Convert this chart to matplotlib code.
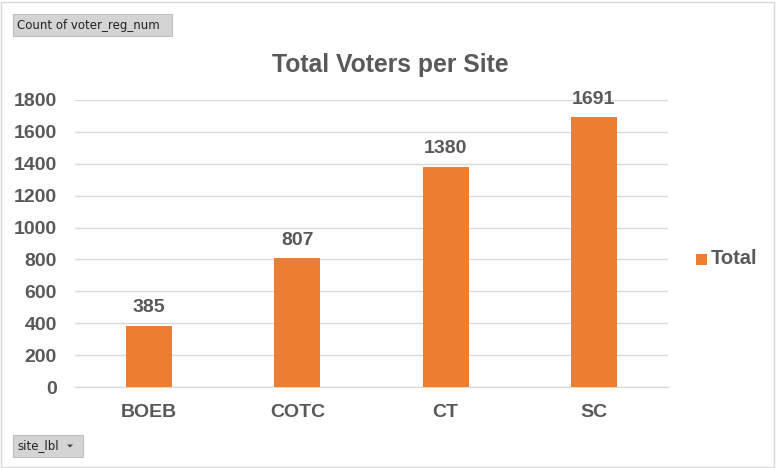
import matplotlib
matplotlib.use("Agg")
import matplotlib.pyplot as plt
from matplotlib.patches import Rectangle, Polygon

categories = ["BOEB", "COTC", "CT", "SC"]
values = [385, 807, 1380, 1691]
yticks = [0, 200, 400, 600, 800, 1000, 1200, 1400, 1600, 1800]

W, H = 776, 468
fig = plt.figure(figsize=(W/100, H/100), dpi=100)
plt.rcParams['font.family'] = ['Liberation Sans', 'DejaVu Sans']
txt = '#595959'
orange = '#ED7D31'

# outer frame
fig.patches.append(Rectangle((1/W, 1/H), (W-3)/W, (H-3)/H, transform=fig.transFigure,
                             fill=False, edgecolor='#d9d9d9', lw=1))

ax = fig.add_axes([75/W, 1-387/H, (668-75)/W, (387-100)/H])
x = range(len(categories))
bars = ax.bar(x, values, width=0.31, color=orange, zorder=3)
ax.set_xlim(-0.5, 3.5)
ax.set_ylim(0, 1800)
ax.set_yticks(yticks)
ax.set_yticklabels([str(v) for v in yticks], fontsize=14, fontweight='bold', color=txt)
ax.set_xticks(list(x))
ax.set_xticklabels(categories, fontsize=14, fontweight='bold', color=txt)
ax.tick_params(axis='y', length=0, pad=13)
ax.tick_params(axis='x', length=0, pad=12)
ax.grid(axis='y', color='#d9d9d9', lw=1, zorder=0)
for s in ['top', 'right', 'left']:
    ax.spines[s].set_visible(False)
ax.spines['bottom'].set_color('#d9d9d9')
for b, v in zip(bars, values):
    ax.annotate(str(v), (b.get_x()+b.get_width()/2, v), xytext=(0, 7), textcoords='offset points',
                ha='center', va='bottom', fontsize=14, fontweight='bold', color=txt)

fig.text(390/W, 1-65/H, "Total Voters per Site", ha='center', va='center',
         fontsize=17.8, fontweight='bold', color=txt)

# legend
fig.patches.append(Rectangle((696/W, 1-265/H), 11/W, 11/H, transform=fig.transFigure,
                             facecolor=orange, edgecolor='none'))
fig.text(711/W, 1-259/H, "Total", ha='left', va='center', fontsize=14.5, fontweight='bold', color=txt)

# field buttons
def button(x0, y0, w, h, label, arrow=False):
    fig.patches.append(Rectangle((x0/W, 1-(y0+h)/H), w/W, h/H, transform=fig.transFigure,
                                 facecolor='#d4d4d4', edgecolor='#c0c0c0', lw=0.8))
    fig.text((x0+4)/W, 1-(y0+h/2)/H, label, ha='left', va='center', fontsize=8.5, color='#222222',
             family=['DejaVu Sans'])
    if arrow:
        ax_ = x0+w-13
        cy = y0+h/2
        fig.patches.append(Polygon([((ax_-3)/W, 1-(cy-1.5)/H), ((ax_+3)/W, 1-(cy-1.5)/H),
                                    (ax_/W, 1-(cy+1.5)/H)], closed=True, transform=fig.transFigure,
                                   facecolor='#444444', edgecolor='none'))

button(13, 14, 159, 22, "Count of voter_reg_num")
button(13, 435, 70, 22, "site_lbl", arrow=True)

fig.savefig("out.png", dpi=100)
